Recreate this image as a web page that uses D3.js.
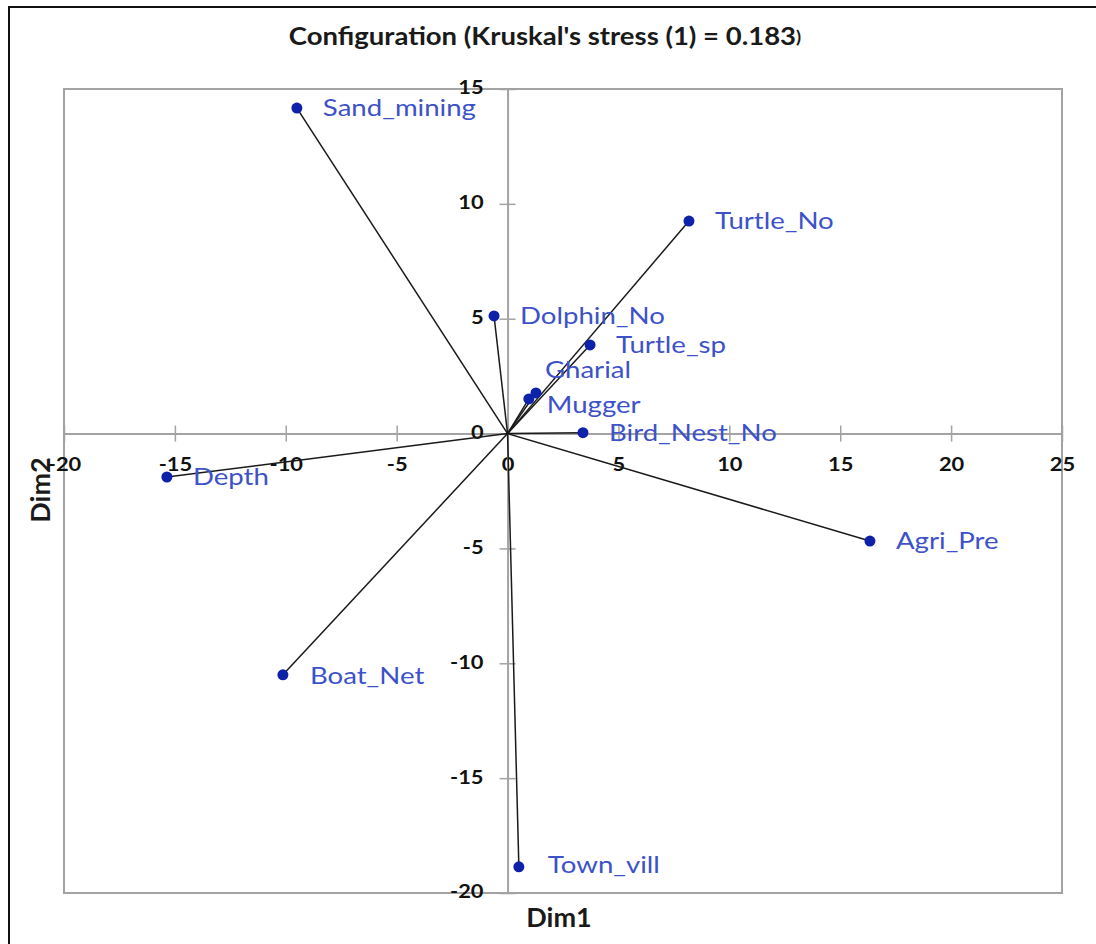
<!DOCTYPE html>
<html>
<head>
<meta charset="utf-8">
<script src="https://cdn.jsdelivr.net/npm/d3@7"></script>
<style>
  html, body { margin: 0; padding: 0; background: #fff; }
  svg { display: block; }
  text { font-family: Lato, "Open Sans", "DejaVu Sans", sans-serif; }
</style>
</head>
<body>
<svg id="chart" width="1096" height="944"></svg>
<script>
// MDS configuration: variables and their coordinates on the two dimensions
const variables = ["Sand_mining", "Turtle_No", "Dolphin_No", "Turtle_sp", "Gharial", "Mugger",
                   "Bird_Nest_No", "Agri_Pre", "Depth", "Boat_Net", "Town_vill"];
const dim1 = [-9.5, 8.18, -0.61, 3.72, 1.28, 0.96, 3.4, 16.34, -15.36, -10.13, 0.51];
const dim2 = [14.17, 9.25, 5.12, 3.86, 1.77, 1.51, 0.04, -4.68, -1.89, -10.5, -18.86];

const xTicks = [-20, -15, -10, -5, 0, 5, 10, 15, 20, 25];
const yTicks = [-20, -15, -10, -5, 0, 5, 10, 15];
const xDomain = [-20, 25];
const yDomain = [-20, 15];

const titleText = "Configuration (Kruskal's stress (1) = 0.183";

const svg = d3.select("#chart");

// outer frame
svg.append("rect")
  .attr("x", 9).attr("y", 7)
  .attr("width", 1100).attr("height", 960)
  .attr("fill", "none").attr("stroke", "#111").attr("stroke-width", 2);

const plot = { left: 64, right: 1062, top: 89, bottom: 893 };

const x = d3.scaleLinear().domain(xDomain).range([plot.left, plot.right]);
const y = d3.scaleLinear().domain(yDomain).range([plot.bottom, plot.top]);

// horizontal stretch applied to text so the labels keep their wide look
const STRETCH = 1.15;

// plot box
svg.append("rect")
  .attr("x", plot.left).attr("y", plot.top)
  .attr("width", plot.right - plot.left).attr("height", plot.bottom - plot.top)
  .attr("fill", "none").attr("stroke", "#a3a3a3").attr("stroke-width", 2);

const fmt = d => String(d);

// horizontal axis through y = 0
const xAxis = d3.axisBottom(x).tickValues(xTicks).tickSize(0).tickFormat(fmt);
const gx = svg.append("g").attr("transform", `translate(0,${y(0)})`).call(xAxis);
gx.select(".domain").attr("stroke", "#a3a3a3").attr("stroke-width", 2);
gx.selectAll(".tick line").remove();
gx.selectAll(".tick").append("line")
  .attr("y1", -8).attr("y2", 8).attr("stroke", "#a3a3a3").attr("stroke-width", 1.5);
gx.selectAll(".tick text")
  .attr("y", null).attr("dy", "0")
  .attr("transform", `translate(0,33) scale(${STRETCH},1)`)
  .attr("fill", "#111").attr("font-size", 19).attr("font-weight", "bold")
  .attr("font-family", "Lato, sans-serif").attr("dominant-baseline", "middle");

// vertical axis through x = 0
const yAxis = d3.axisLeft(y).tickValues(yTicks).tickSize(0).tickFormat(fmt);
const gy = svg.append("g").attr("transform", `translate(${x(0)},0)`).call(yAxis);
gy.select(".domain").attr("stroke", "#a3a3a3").attr("stroke-width", 2);
gy.selectAll(".tick line").remove();
gy.selectAll(".tick").append("line")
  .attr("x1", -8).attr("x2", 8).attr("stroke", "#a3a3a3").attr("stroke-width", 1.5);
gy.selectAll(".tick text")
  .attr("x", null).attr("dy", "0")
  .attr("transform", `translate(-24,0) scale(${STRETCH},1)`)
  .attr("fill", "#111").attr("font-size", 19).attr("font-weight", "bold")
  .attr("font-family", "Lato, sans-serif").attr("dominant-baseline", "middle");

const data = variables.map((name, i) => ({ name, d1: dim1[i], d2: dim2[i] }));

// vectors from the origin
svg.append("g").selectAll("line")
  .data(data).join("line")
  .attr("x1", x(0)).attr("y1", y(0))
  .attr("x2", d => x(d.d1)).attr("y2", d => y(d.d2))
  .attr("stroke", "#1a1a1a").attr("stroke-width", 1.5);

// points
svg.append("g").selectAll("circle")
  .data(data).join("circle")
  .attr("cx", d => x(d.d1)).attr("cy", d => y(d.d2))
  .attr("r", 5.5).attr("fill", "#0d22a8");

// label placement: default to the right of the point; the two close points split up/down
const labelShift = {
  Gharial: [9, -21],
  Mugger: [18, 8],
  Town_vill: [29, 0],
  Boat_Net: [27, 3]
};
const shiftOf = d => labelShift[d.name] || [26, 2];

svg.append("g").selectAll("text")
  .data(data).join("text")
  .attr("transform", d => {
    const [dx, dy] = shiftOf(d);
    return `translate(${x(d.d1) + dx},${y(d.d2) + dy}) scale(${STRETCH},1)`;
  })
  .attr("dominant-baseline", "middle")
  .attr("font-size", 24).attr("fill", "#3d52c8")
  .text(d => d.name);

// title
const title = svg.append("text")
  .attr("transform", "translate(545,38) scale(1.1,1)")
  .attr("text-anchor", "middle").attr("dominant-baseline", "middle")
  .attr("font-size", 25).attr("font-weight", "bold").attr("fill", "#1a1a1a");
title.append("tspan").text(titleText);
title.append("tspan").attr("font-size", 17).text(")");

// axis titles
svg.append("text")
  .attr("x", 559).attr("y", 920)
  .attr("text-anchor", "middle").attr("dominant-baseline", "middle")
  .attr("font-size", 27).attr("font-weight", "bold").attr("fill", "#1a1a1a")
  .text("Dim1");

svg.append("text")
  .attr("transform", "translate(43,490) rotate(-90)")
  .attr("text-anchor", "middle").attr("dominant-baseline", "middle")
  .attr("font-size", 27).attr("font-weight", "bold").attr("fill", "#1a1a1a")
  .text("Dim2");
</script>
</body>
</html>
